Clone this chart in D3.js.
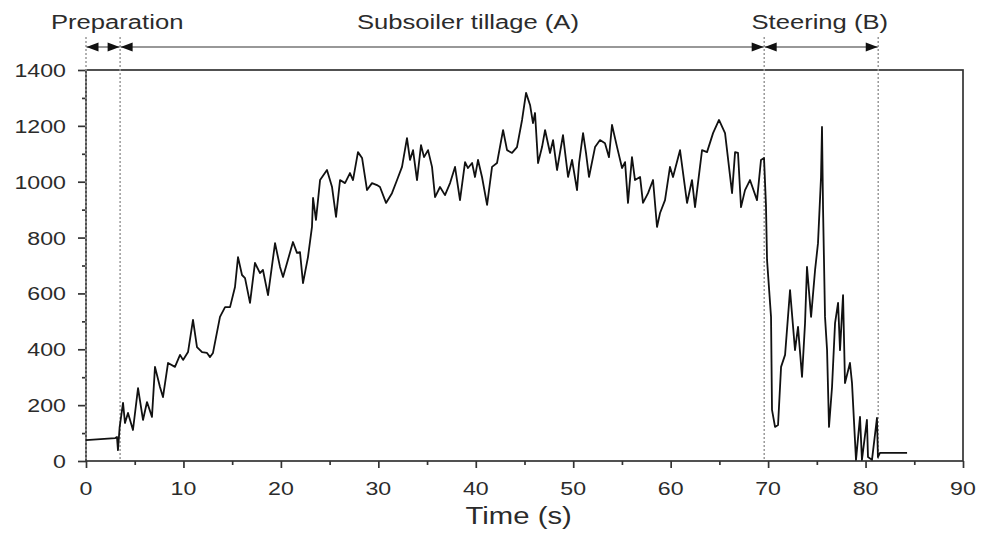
<!DOCTYPE html>
<html>
<head>
<meta charset="utf-8">
<script src="https://cdn.jsdelivr.net/npm/d3@7"></script>
<style>
  html, body { margin: 0; padding: 0; background: #fff; }
  svg { display: block; }
  text { font-family: "Liberation Sans", Arial, sans-serif; fill: #2b2b2b; }
</style>
</head>
<body>
<svg id="chart" width="985" height="533"></svg>
<script>
// Time axis (s) and the recorded load trace
const timeS = [
  0, 3.0, 3.18, 3.28, 3.45, 3.80, 4.00, 4.31, 4.82, 5.34, 5.85, 6.26, 6.77, 7.08, 7.59, 7.90,
  8.42, 9.13, 9.65, 9.96, 10.47, 10.98, 11.39, 11.91, 12.42, 12.73, 13.03, 13.75, 14.27, 14.78,
  15.29, 15.60, 16.01, 16.32, 16.83, 17.34, 17.86, 18.16, 18.68, 19.40, 19.91, 20.22, 20.63,
  21.24, 21.65, 21.96, 22.27, 22.78, 23.19, 23.30, 23.60, 24.02, 24.73, 25.25, 25.66, 26.07,
  26.58, 27.09, 27.40, 27.91, 28.33, 28.84, 29.35, 29.86, 30.17, 30.79, 31.40, 31.92, 32.43,
  32.94, 33.25, 33.56, 33.97, 34.38, 34.69, 35.10, 35.51, 35.82, 36.33, 36.84, 37.36, 37.87,
  38.38, 38.90, 39.20, 39.62, 39.92, 40.23, 40.64, 41.16, 41.67, 42.18, 42.80, 43.21, 43.72,
  44.23, 44.75, 45.16, 45.57, 45.87, 46.08, 46.39, 46.80, 47.11, 47.62, 47.93, 48.34, 48.95,
  49.47, 49.88, 50.39, 50.60, 51.01, 51.31, 51.62, 52.24, 52.75, 53.26, 53.67, 53.98, 54.50,
  55.01, 55.32, 55.62, 56.03, 56.34, 56.86, 57.16, 57.68, 58.19, 58.60, 58.91, 59.42, 59.93,
  60.24, 60.96, 61.68, 62.19, 62.50, 63.22, 63.73, 64.35, 64.96, 65.58, 66.30, 66.61, 66.91,
  67.22, 67.63, 68.14, 68.86, 69.27, 69.58, 69.78, 69.89, 70.30, 70.40, 70.71, 71.02, 71.33,
  71.74, 72.25, 72.76, 73.07, 73.48, 73.79, 73.99, 74.41, 74.82, 75.12, 75.43, 75.53, 75.64,
  75.84, 76.05, 76.25, 76.56, 76.87, 77.18, 77.38, 77.69, 77.89, 78.40, 78.61, 79.02, 79.43,
  79.63, 80.14, 80.25, 80.66, 81.17, 81.27, 81.48, 84.26
];
const load = [
  75, 82, 86, 39, 120, 208, 136, 172, 111, 261, 147, 211, 158, 337, 265, 229,
  351, 337, 380, 362, 390, 505, 408, 390, 387, 372, 387, 516, 551, 551,
  623, 730, 666, 655, 566, 709, 673, 684, 594, 780, 695, 659, 709,
  784, 745, 748, 637, 730, 838, 942, 863, 1006, 1042, 981, 874, 1006,
  995, 1031, 1006, 1106, 1085, 970, 995, 988, 981, 924, 959, 1006, 1053,
  1156, 1078, 1113, 1006, 1131, 1088, 1113, 1053, 945, 981, 952, 995, 1053,
  934, 1070, 1049, 1067, 1017, 1078, 1017, 917, 1053, 1067, 1185, 1113, 1103,
  1124, 1221, 1318, 1275, 1210, 1246, 1067, 1124, 1185, 1103, 1149, 1042, 1167,
  1017, 1078, 970, 1067, 1174, 1103, 1017, 1124, 1149, 1138, 1088, 1203, 1124,
  1049, 1070, 924, 1088, 1006, 1017, 924, 959, 1006, 838, 888, 934, 1053,
  1017, 1113, 924, 1006, 909, 1113, 1106, 1174, 1221, 1174, 959, 1106, 1103,
  909, 970, 1006, 934, 1078, 1085, 917, 720, 516, 183, 122, 129, 337,
  380, 612, 397, 480, 301, 494, 695, 516, 684, 780, 1017, 1196, 899,
  516, 397, 122, 265, 494, 566, 397, 594, 279, 351, 279, 4, 158,
  4, 147, 14, 4, 154, 14, 29, 29
];

const xTicks = [0, 10, 20, 30, 40, 50, 60, 70, 80, 90];
const xMinorTicks = [5, 15, 25, 35, 45, 55, 65, 75, 85];
const yTicks = [0, 200, 400, 600, 800, 1000, 1200, 1400];
const yMinorTicks = [100, 300, 500, 700, 900, 1100, 1300];

// Working phases: boundaries (s), names and where each name sits (s)
const phaseBounds = [0, 3.5, 69.6, 81.3];
const phaseNames = ["Preparation", "Subsoiler tillage (A)", "Steering (B)"];
const phaseNameAt = [3.2, 39.2, 75.3];

const xLabel = "Time (s)";
const xLabelAt = 44.4;

const svg = d3.select("#chart");
const plotL = 86, plotR = 963, plotT = 70, plotB = 461;

const x = d3.scaleLinear().domain([0, 90]).range([plotL, plotR]);
const y = d3.scaleLinear().domain([0, 1400]).range([plotB, plotT]);

const ink = "#333";
const sx = 1.22; // wide lettering

// frame
svg.append("rect")
  .attr("x", plotL).attr("y", plotT)
  .attr("width", plotR - plotL).attr("height", plotB - plotT)
  .attr("fill", "none").attr("stroke", ink).attr("stroke-width", 1.7);

function styleAxis(g) {
  g.select(".domain").remove();
  g.selectAll("line").attr("stroke", ink).attr("stroke-width", 1.7);
}
svg.append("g").attr("transform", `translate(0,${plotB})`)
  .call(d3.axisBottom(x).tickValues(xTicks).tickSize(7).tickFormat(""))
  .call(styleAxis);
svg.append("g").attr("transform", `translate(0,${plotB})`)
  .call(d3.axisBottom(x).tickValues(xMinorTicks).tickSize(4).tickFormat(""))
  .call(styleAxis);
svg.append("g").attr("transform", `translate(${plotL},0)`)
  .call(d3.axisLeft(y).tickValues(yTicks).tickSize(8).tickFormat(""))
  .call(styleAxis);
svg.append("g").attr("transform", `translate(${plotL},0)`)
  .call(d3.axisLeft(y).tickValues(yMinorTicks).tickSize(4).tickFormat(""))
  .call(styleAxis);

// tick labels (horizontally widened text)
svg.append("g").selectAll("text").data(xTicks).join("text")
  .attr("transform", d => `translate(${x(d)},${plotB + 34}) scale(${sx},1)`)
  .attr("text-anchor", "middle")
  .attr("font-size", 19)
  .text(d => d);
svg.append("g").selectAll("text").data(yTicks).join("text")
  .attr("transform", d => `translate(${plotL - 20},${y(d) + 7}) scale(${sx},1)`)
  .attr("text-anchor", "end")
  .attr("font-size", 19)
  .text(d => d);

svg.append("text")
  .attr("transform", `translate(${x(xLabelAt)},${plotB + 63}) scale(${sx},1)`)
  .attr("text-anchor", "middle")
  .attr("font-size", 24)
  .text(xLabel);

// phase boundaries
const arrowY = 47;
svg.append("g").selectAll("line").data(phaseBounds).join("line")
  .attr("x1", d => x(d)).attr("x2", d => x(d))
  .attr("y1", 37).attr("y2", plotB)
  .attr("stroke", "#999").attr("stroke-width", 1.5)
  .attr("stroke-dasharray", "2,2");

// phase span arrows
const phases = phaseNames.map((name, i) => ({
  name, at: phaseNameAt[i], t0: phaseBounds[i], t1: phaseBounds[i + 1]
}));
const head = (tip, dir) => {
  const L = 12, H = 4.5;
  return `M${tip},${arrowY}L${tip - dir * L},${arrowY - H}L${tip - dir * L},${arrowY + H}Z`;
};
const pg = svg.append("g");
phases.forEach(p => {
  const a = x(p.t0) + 0.5, b = x(p.t1) - 0.5;
  pg.append("line").attr("x1", a).attr("x2", b)
    .attr("y1", arrowY).attr("y2", arrowY)
    .attr("stroke", ink).attr("stroke-width", 1.2);
  pg.append("path").attr("d", head(a, -1)).attr("fill", "#111");
  pg.append("path").attr("d", head(b, 1)).attr("fill", "#111");
  pg.append("text")
    .attr("transform", `translate(${x(p.at)},29) scale(${sx},1)`)
    .attr("text-anchor", "middle")
    .attr("font-size", 21)
    .text(p.name);
});

// load trace
const pts = timeS.map((t, i) => [t, load[i]]);
svg.append("path")
  .datum(pts)
  .attr("fill", "none")
  .attr("stroke", "#111")
  .attr("stroke-width", 1.8)
  .attr("stroke-linejoin", "round")
  .attr("d", d3.line().x(d => x(d[0])).y(d => y(d[1])));
</script>
</body>
</html>
